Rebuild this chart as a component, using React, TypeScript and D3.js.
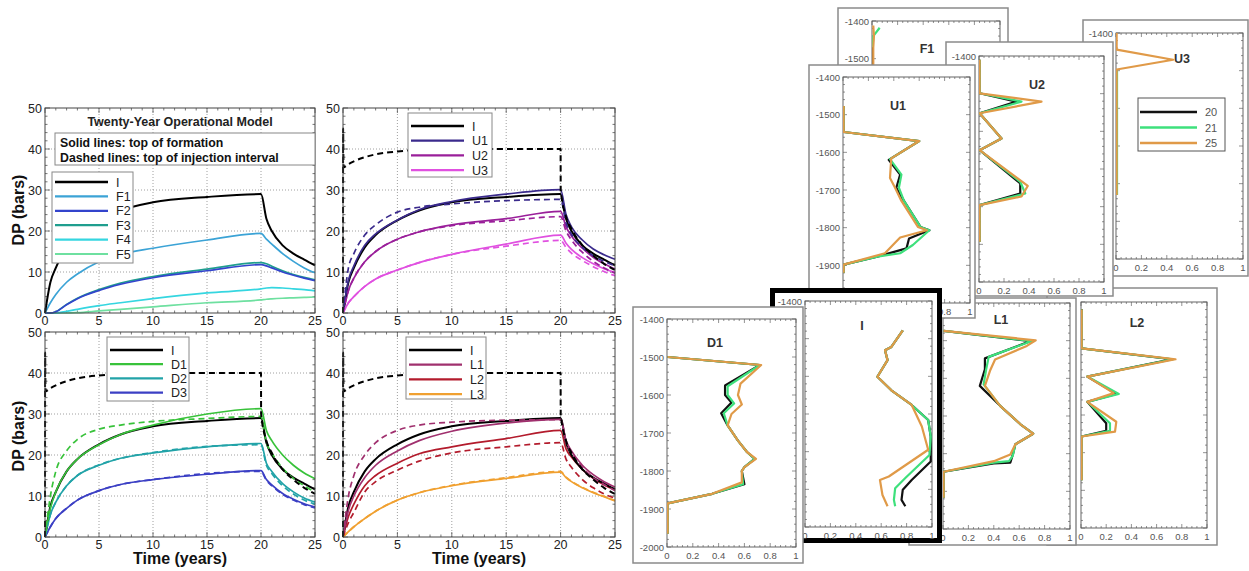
import React from 'react';
import * as d3 from 'd3';

// ---------------- time-series data (DP in bars) ----------------
const T = [0, 0.5, 1, 2, 3, 5, 7, 10, 15, 20, 20.5, 21, 22, 23, 24, 25];
const T_I_DASH = [0, 0.01, 0.05, 0.5, 1, 2, 3, 5, 7, 10, 15, 20, 20.01, 20.5, 21, 22, 23, 24, 25];
const I_DASHED = [0, 45, 35.5, 36.3, 37, 38, 38.7, 39.4, 39.8, 40, 40, 40, 30, 23.5, 20.5, 16.5, 14, 12, 10.5];

const I_SOLID = [0, 7.5, 11, 16, 19, 22.6, 25, 27, 28.3, 29, 23, 20, 16.5, 14.5, 13, 11.6];

const F1 = [0, 2.5, 4.5, 7.5, 9.5, 12.5, 14.3, 15.8, 17.8, 19.4, 18, 16.8, 14.5, 12.6, 11, 9.8];
const F2 = [0, 0, 0.3, 2, 3.5, 5.5, 7, 8.6, 10.3, 11.8, 11.5, 11, 10, 9.2, 8.5, 7.9];
const F3 = [0, 0, 0.3, 2.1, 3.6, 5.7, 7.3, 8.9, 10.7, 12.3, 12, 11.4, 10.3, 9.4, 8.7, 8.1];
const F4 = [0, 0, 0, 0.4, 0.9, 1.8, 2.5, 3.5, 4.9, 5.9, 6.1, 6.2, 6.1, 5.9, 5.7, 5.4];
const F5 = [0, 0, 0, 0, 0.1, 0.5, 0.9, 1.5, 2.5, 3.2, 3.35, 3.45, 3.6, 3.7, 3.8, 3.9];

const U1 = [0, 8, 11.5, 16.5, 19.3, 22.7, 25.2, 27.2, 29, 30.1, 24, 21, 17.8, 15.6, 14.2, 13.1];
const U1_D = [0, 11, 14.5, 19, 21.5, 24.6, 25.8, 26.6, 27.4, 27.7, 22, 19.2, 16, 14, 12.6, 11.5];
const U2 = [0, 5.5, 8.5, 12.5, 15, 18, 19.8, 21.5, 23, 24.8, 21, 18.8, 15.8, 13.6, 12, 10.7];
const U2_D = [0, 5.5, 8.5, 12.5, 15, 18, 19.8, 21.3, 22.5, 23.5, 20, 17.8, 14.8, 12.6, 11, 9.7];
const U3 = [0, 2.5, 4, 6.5, 8.3, 10.5, 12.3, 14.3, 16.8, 19, 17, 15.5, 13.5, 12, 10.8, 9.9];
const U3_D = [0, 2.5, 4, 6.5, 8.3, 10.5, 12.3, 14.3, 16.3, 17.7, 16, 14.6, 12.8, 11.3, 10.1, 9.1];

const D1 = [0, 7, 11, 16, 19, 22.5, 25, 27.3, 30, 31.3, 26, 23.5, 20, 17.5, 15.6, 14.2];
const D1_D = [0, 10, 16, 21, 23.8, 26.3, 27.3, 28.2, 28.9, 29.4, 23, 20.5, 16.8, 14.3, 12.5, 11];
const D2 = [0, 5.5, 8.5, 12.5, 15, 17.5, 19.2, 20.5, 22, 22.8, 18, 16, 13, 11, 9.5, 8.5];
const D2_D = [0, 5.5, 8.5, 12.5, 15, 17.6, 19.2, 20.6, 22.1, 22.5, 17.5, 15.5, 12.5, 10.5, 9, 8];
const D3 = [0, 2.5, 4.5, 7, 9, 11.3, 12.8, 14, 15.3, 16.2, 14, 12.7, 10.6, 9.2, 8.1, 7.3];
const D3_D = [0, 2.5, 4.5, 7, 9, 11.3, 12.8, 14, 15.5, 16, 13.8, 12.5, 10.4, 9, 7.9, 7.1];

const L1 = [0, 6.5, 10, 14.5, 17.5, 21, 23.5, 25.8, 27.8, 28.7, 23.5, 21, 17.5, 15.2, 13.5, 12.2];
const L1_D = [0, 10, 15, 20, 23, 26, 27.3, 28, 28.5, 28.6, 23, 20.5, 17, 14.5, 12.8, 11.3];
const L2 = [0, 5, 8, 12.5, 15, 18, 20.3, 22, 24, 26, 21.5, 19.5, 16.5, 14.3, 12.7, 11.5];
const L2_D = [0, 3.5, 6, 11, 13.5, 16.3, 18.5, 20.5, 22, 23, 19, 17, 14, 12, 10.5, 9.5];
const L3 = [0, 1.3, 2.5, 4.5, 6.3, 9, 10.8, 12.5, 14.3, 15.8, 14.5, 13.5, 12, 10.8, 9.8, 8.8];
const L3_D = [0, 1.3, 2.5, 4.5, 6.3, 9, 10.8, 12.6, 14.5, 16, 14.6, 13.6, 12.1, 10.9, 9.9, 8.9];

const X_TICKS = [0, 5, 10, 15, 20, 25];
const Y_TICKS = [0, 10, 20, 30, 40, 50];

// ---------------- depth-profile data ([value, depth]) ----------------
type P = [number, number];
const F1_20: P[] = [[0.005, -1450], [0.005, -1540]];
const F1_21: P[] = [[0.005, -1470], [0.01, -1440], [0.06, -1418]];
const F1_25: P[] = [[0.01, -1412], [0.015, -1440], [0.01, -1470], [0.01, -1540]];

const U3_20: P[] = [[0.005, -1500], [0.005, -1830]];
const U3_21: P[] = [[0.008, -1500], [0.008, -1830]];
const U3_25: P[] = [[0.005, -1400], [0.005, -1444], [0.45, -1471], [0.005, -1497], [0.005, -1830]];

const L2_20: P[] = [[0.005, -1420], [0.005, -1523], [0.72, -1552], [0.05, -1598], [0.28, -1644], [0.05, -1665], [0.2, -1722], [0.2, -1742], [0.005, -1757], [0.005, -1873]];
const L2_21: P[] = [[0.005, -1420], [0.005, -1523], [0.73, -1552], [0.05, -1598], [0.3, -1644], [0.05, -1665], [0.23, -1722], [0.23, -1742], [0.005, -1757], [0.005, -1873]];
const L2_25: P[] = [[0.005, -1420], [0.005, -1523], [0.75, -1552], [0.05, -1598], [0.26, -1642], [0.05, -1665], [0.28, -1718], [0.27, -1744], [0.005, -1757], [0.005, -1873]];

const L1_20: P[] = [[0.005, -1474], [0.69, -1501], [0.33, -1547], [0.33, -1576], [0.29, -1620], [0.45, -1673], [0.61, -1722], [0.71, -1747], [0.57, -1775], [0.55, -1802], [0.53, -1824], [0.4, -1826], [0.005, -1848], [0.005, -1917]];
const L1_21: P[] = [[0.005, -1474], [0.7, -1501], [0.36, -1543], [0.34, -1576], [0.32, -1616], [0.45, -1673], [0.61, -1722], [0.71, -1747], [0.57, -1775], [0.55, -1805], [0.52, -1820], [0.4, -1824], [0.005, -1848], [0.005, -1917]];
const L1_25: P[] = [[0.005, -1474], [0.73, -1499], [0.66, -1514], [0.41, -1550], [0.37, -1580], [0.33, -1620], [0.45, -1673], [0.61, -1722], [0.71, -1747], [0.57, -1775], [0.53, -1802], [0.4, -1820], [0.005, -1848], [0.005, -1917]];

const U2_20: P[] = [[0.005, -1410], [0.005, -1499], [0.3, -1521], [0.005, -1552], [0.18, -1619], [0.005, -1650], [0.33, -1738], [0.33, -1765], [0.005, -1796], [0.005, -1893]];
const U2_21: P[] = [[0.005, -1410], [0.005, -1499], [0.34, -1521], [0.005, -1552], [0.18, -1619], [0.005, -1650], [0.33, -1734], [0.37, -1765], [0.005, -1796], [0.005, -1893]];
const U2_25: P[] = [[0.005, -1410], [0.005, -1499], [0.5, -1521], [0.005, -1552], [0.18, -1619], [0.005, -1650], [0.39, -1745], [0.34, -1773], [0.005, -1796], [0.005, -1893]];

const U1_20: P[] = [[0.005, -1477], [0.005, -1546], [0.6, -1570], [0.36, -1620], [0.45, -1659], [0.42, -1694], [0.48, -1729], [0.61, -1798], [0.68, -1807], [0.52, -1829], [0.5, -1855], [0.27, -1877], [0.005, -1898], [0.005, -1920]];
const U1_21: P[] = [[0.005, -1477], [0.005, -1546], [0.6, -1570], [0.37, -1618], [0.46, -1659], [0.44, -1694], [0.48, -1729], [0.61, -1798], [0.68, -1807], [0.55, -1846], [0.45, -1868], [0.27, -1877], [0.005, -1898], [0.005, -1920]];
const U1_25: P[] = [[0.005, -1477], [0.005, -1546], [0.6, -1570], [0.38, -1616], [0.37, -1668], [0.41, -1694], [0.46, -1729], [0.59, -1798], [0.66, -1807], [0.45, -1826], [0.33, -1868], [0.005, -1898], [0.005, -1920]];

const I_20: P[] = [[0.77, -1478], [0.68, -1522], [0.63, -1531], [0.65, -1557], [0.57, -1601], [0.68, -1637], [0.84, -1676], [0.97, -1716], [0.99, -1760], [0.99, -1826], [0.84, -1875], [0.77, -1901], [0.76, -1928], [0.79, -1945]];
const I_21: P[] = [[0.77, -1478], [0.68, -1522], [0.63, -1531], [0.65, -1557], [0.57, -1601], [0.68, -1637], [0.84, -1676], [0.97, -1716], [0.99, -1760], [0.98, -1809], [0.79, -1870], [0.71, -1897], [0.7, -1928], [0.71, -1945]];
const I_25: P[] = [[0.77, -1478], [0.68, -1522], [0.63, -1531], [0.65, -1557], [0.57, -1601], [0.68, -1637], [0.84, -1676], [0.92, -1733], [0.97, -1795], [0.66, -1866], [0.59, -1875], [0.61, -1915], [0.65, -1945]];

const D1_20: P[] = [[0.005, -1500], [0.72, -1521], [0.45, -1575], [0.45, -1600], [0.5, -1620], [0.42, -1648], [0.47, -1680], [0.55, -1720], [0.62, -1750], [0.68, -1768], [0.6, -1790], [0.58, -1800], [0.6, -1835], [0.35, -1860], [0.005, -1885], [0.005, -1965]];
const D1_21: P[] = [[0.005, -1500], [0.72, -1521], [0.47, -1577], [0.47, -1600], [0.52, -1622], [0.44, -1648], [0.47, -1680], [0.55, -1720], [0.62, -1750], [0.68, -1768], [0.6, -1790], [0.58, -1800], [0.59, -1835], [0.35, -1860], [0.005, -1885], [0.005, -1965]];
const D1_25: P[] = [[0.005, -1500], [0.73, -1521], [0.57, -1570], [0.55, -1600], [0.58, -1625], [0.5, -1650], [0.47, -1680], [0.55, -1720], [0.62, -1750], [0.69, -1768], [0.6, -1790], [0.58, -1800], [0.58, -1830], [0.35, -1860], [0.005, -1885], [0.005, -1965]];

const DEPTH_TICKS = [-1400, -1500, -1600, -1700, -1800, -1900, -2000];
const SAT_TICKS = [0, 0.2, 0.4, 0.6, 0.8, 1];
const YEARS = ['20', '21', '25'];

// ---------------- styling ----------------
const FONT = "Arial, 'Liberation Sans', Helvetica, sans-serif";
const C = {
  I: '#000000', F1: '#3ba3d6', F2: '#3344cc', F3: '#1f9e8e', F4: '#35d6e0', F5: '#6ee0a0',
  U1: '#3a2a8c', U2: '#9a1f9a', U3: '#e050e0', D1: '#38c23a', D2: '#22a3a8', D3: '#3b3fc4',
  L1: '#a0306e', L2: '#b31b2c', L3: '#f0a030',
};
const YEAR_COLORS = ['#111111', '#3ee07c', '#e09a48'];

type Ser = { name: string; v: number[]; color: string; dashed?: boolean; t?: number[]; w?: number };

const TIME_PANELS = [
  {
    key: 'TL', x0: 45, x1: 315, y0: 108, y1: 313,
    series: [
      { name: 'F5', v: F5, color: C.F5 }, { name: 'F4', v: F4, color: C.F4 },
      { name: 'F3', v: F3, color: C.F3 }, { name: 'F2', v: F2, color: C.F2 },
      { name: 'F1', v: F1, color: C.F1 }, { name: 'I', v: I_SOLID, color: C.I, w: 2 },
    ] as Ser[],
    legend: { x: 52, y: 172, w: 81, h: 91, first: 10, step: 14.4, items: ['I', 'F1', 'F2', 'F3', 'F4', 'F5'] },
  },
  {
    key: 'TR', x0: 343, x1: 615, y0: 108, y1: 313,
    series: [
      { name: 'U3', v: U3, color: C.U3 }, { name: 'U2', v: U2, color: C.U2 },
      { name: 'I', v: I_SOLID, color: C.I, w: 2 }, { name: 'U1', v: U1, color: C.U1 },
      { name: 'U3d', v: U3_D, color: C.U3, dashed: true }, { name: 'U2d', v: U2_D, color: C.U2, dashed: true },
      { name: 'U1d', v: U1_D, color: C.U1, dashed: true },
      { name: 'Id', v: I_DASHED, t: T_I_DASH, color: C.I, dashed: true, w: 2 },
    ] as Ser[],
    legend: { x: 408, y: 113, w: 84, h: 64, first: 13, step: 14.7, items: ['I', 'U1', 'U2', 'U3'] },
  },
  {
    key: 'BL', x0: 45, x1: 315, y0: 332, y1: 537,
    series: [
      { name: 'D3', v: D3, color: C.D3 }, { name: 'D2', v: D2, color: C.D2 },
      { name: 'I', v: I_SOLID, color: C.I, w: 2 }, { name: 'D1', v: D1, color: C.D1 },
      { name: 'D3d', v: D3_D, color: C.D3, dashed: true }, { name: 'D2d', v: D2_D, color: C.D2, dashed: true },
      { name: 'D1d', v: D1_D, color: C.D1, dashed: true },
      { name: 'Id', v: I_DASHED, t: T_I_DASH, color: C.I, dashed: true, w: 2 },
    ] as Ser[],
    legend: { x: 107, y: 337, w: 82, h: 64, first: 13, step: 14.2, items: ['I', 'D1', 'D2', 'D3'] },
  },
  {
    key: 'BR', x0: 343, x1: 615, y0: 332, y1: 537,
    series: [
      { name: 'L3', v: L3, color: C.L3 }, { name: 'L2', v: L2, color: C.L2 },
      { name: 'I', v: I_SOLID, color: C.I, w: 2 }, { name: 'L1', v: L1, color: C.L1 },
      { name: 'L3d', v: L3_D, color: C.L3, dashed: true }, { name: 'L2d', v: L2_D, color: C.L2, dashed: true },
      { name: 'L1d', v: L1_D, color: C.L1, dashed: true },
      { name: 'Id', v: I_DASHED, t: T_I_DASH, color: C.I, dashed: true, w: 2 },
    ] as Ser[],
    legend: { x: 406, y: 337, w: 80, h: 62, first: 13, step: 14.7, items: ['I', 'L1', 'L2', 'L3'] },
  },
];

function TimePanel({ cfg }: { cfg: any }) {
  const x = d3.scaleLinear().domain([0, 25]).range([cfg.x0, cfg.x1]);
  const y = d3.scaleLinear().domain([0, 50]).range([cfg.y1, cfg.y0]);
  const minorX = d3.range(0, 26, 1);
  const minorY = d3.range(0, 51, 2);
  const clipId = `clip-${cfg.key}`;
  const colorOf = (n: string) => (C as any)[n];
  const lg = cfg.legend;
  return (
    <g>
      <defs>
        <clipPath id={clipId}>
          <rect x={cfg.x0 - 1} y={cfg.y0} width={cfg.x1 - cfg.x0 + 2} height={cfg.y1 - cfg.y0 + 1} />
        </clipPath>
      </defs>
      {[5, 10, 15, 20].map((v) => (
        <line key={'gx' + v} x1={x(v)} x2={x(v)} y1={cfg.y0} y2={cfg.y1} stroke="#888" strokeWidth={0.8} strokeDasharray="1,2" />
      ))}
      {[10, 20, 30, 40].map((v) => (
        <line key={'gy' + v} x1={cfg.x0} x2={cfg.x1} y1={y(v)} y2={y(v)} stroke="#888" strokeWidth={0.8} strokeDasharray="1,2" />
      ))}
      {minorX.map((v) => {
        const len = v % 5 === 0 ? 5 : 2.5;
        return (
          <g key={'tx' + v} stroke="#555" strokeWidth={0.8}>
            <line x1={x(v)} x2={x(v)} y1={cfg.y1} y2={cfg.y1 - len} />
            <line x1={x(v)} x2={x(v)} y1={cfg.y0} y2={cfg.y0 + len} />
          </g>
        );
      })}
      {minorY.map((v) => {
        const len = v % 10 === 0 ? 5 : 2.5;
        return (
          <g key={'ty' + v} stroke="#555" strokeWidth={0.8}>
            <line x1={cfg.x0} x2={cfg.x0 + len} y1={y(v)} y2={y(v)} />
            <line x1={cfg.x1} x2={cfg.x1 - len} y1={y(v)} y2={y(v)} />
          </g>
        );
      })}
      <g clipPath={`url(#${clipId})`}>
        {cfg.series.map((s: Ser) => {
          const ts = s.t || T;
          const gen = d3.line<number>().x((_, i) => x(ts[i])).y((v) => y(v)).curve(d3.curveMonotoneX);
          return (
            <path key={s.name} d={gen(s.v) || ''} fill="none" stroke={s.color} strokeWidth={s.w || 1.7}
              strokeDasharray={s.dashed ? '6,4' : undefined} strokeLinejoin="round" />
          );
        })}
      </g>
      <rect x={cfg.x0} y={cfg.y0} width={cfg.x1 - cfg.x0} height={cfg.y1 - cfg.y0} fill="none" stroke="#444" strokeWidth={1} />
      {Y_TICKS.map((v) => (
        <text key={'yl' + v} x={cfg.x0 - 3} y={y(v) + 4.5} textAnchor="end" fontSize={12.5} fill="#222">{v}</text>
      ))}
      {X_TICKS.map((v) => (
        <text key={'xl' + v} x={x(v)} y={cfg.y1 + 12} textAnchor="middle" fontSize={12.5} fill="#222">{v}</text>
      ))}
      <rect x={lg.x} y={lg.y} width={lg.w} height={lg.h} fill="#fff" stroke="#888" strokeWidth={1} />
      {lg.items.map((n: string, i: number) => {
        const yy = lg.y + lg.first + i * lg.step;
        return (
          <g key={'lg' + n}>
            <line x1={lg.x + 3} x2={lg.x + 56} y1={yy} y2={yy} stroke={colorOf(n)} strokeWidth={n === 'I' ? 2.6 : 2.2} />
            <text x={lg.x + 64} y={yy + 4.5} fontSize={12.5} fill="#222">{n}</text>
          </g>
        );
      })}
    </g>
  );
}

// ---------------- profile panels (drawn bottom to top) ----------------
const PROFILE_PANELS = [
  { name: 'F1', l: 872, t: 21, r: 1000, b: 247, f: [838, 8, 1008, 250], s: [F1_20, F1_21, F1_25], tx: 927, ty: 53, yShow: [-1400, -1500], xShow: [] },
  { name: 'U3', l: 1116, t: 33, r: 1243, b: 259, f: [1083, 20, 1248, 276], s: [U3_20, U3_21, U3_25], tx: 1182, ty: 63, yShow: [-1400], xShow: SAT_TICKS },
  { name: 'L2', l: 1081, t: 302, r: 1207, b: 528, f: [1047, 288, 1217, 545], s: [L2_20, L2_21, L2_25], tx: 1137, ty: 327, yShow: [], xShow: SAT_TICKS },
  { name: 'L1', l: 943, t: 303, r: 1070, b: 529, f: [909, 298, 1076, 545], s: [L1_20, L1_21, L1_25], tx: 1001, ty: 324, yShow: [], xShow: SAT_TICKS },
  { name: 'U2', l: 979, t: 56, r: 1104, b: 282, f: [946, 42, 1113, 296], s: [U2_20, U2_21, U2_25], tx: 1037, ty: 89, yShow: [-1400], xShow: SAT_TICKS },
  { name: 'U1', l: 843, t: 77, r: 970, b: 303, f: [809, 65, 975, 318], s: [U1_20, U1_21, U1_25], tx: 898, ty: 110, yShow: [-1400, -1500, -1600, -1700, -1800, -1900], xShow: [0.8, 1] },
  { name: 'I', l: 805, t: 301, r: 932, b: 527, f: [770, 288, 942, 543], s: [I_20, I_21, I_25], tx: 862, ty: 330, thick: true, yShow: [-1400], xShow: SAT_TICKS },
  { name: 'D1', l: 667, t: 319, r: 796, b: 547, f: [633, 307, 803, 563], s: [D1_20, D1_21, D1_25], tx: 715, ty: 347, yShow: DEPTH_TICKS, xShow: SAT_TICKS },
];

function ProfilePanel({ p }: { p: any }) {
  const x = d3.scaleLinear().domain([0, 1]).range([p.l, p.r]);
  const y = d3.scaleLinear().domain([-1400, -2000]).range([p.t, p.b]);
  const gen = d3.line<P>().x((d) => x(d[0])).y((d) => y(d[1]));
  const [fx0, fy0, fx1, fy1] = p.f;
  const clipId = `pclip-${p.name}`;
  const minorX = d3.range(0, 1.0001, 0.04);
  const minorY = d3.range(-1400, -2000.1, -20);
  return (
    <g>
      <defs>
        <clipPath id={clipId}>
          <rect x={p.l} y={p.t} width={p.r - p.l} height={p.b - p.t} />
        </clipPath>
      </defs>
      {p.thick ? (
        <rect x={fx0 + 2.5} y={fy0 + 2.5} width={fx1 - fx0 - 5} height={fy1 - fy0 - 5} fill="#fff" stroke="#000" strokeWidth={5} />
      ) : (
        <rect x={fx0} y={fy0} width={fx1 - fx0} height={fy1 - fy0} fill="#fff" stroke="#8a8a8a" strokeWidth={1.5} />
      )}
      {minorX.map((v, i) => {
        const len = i % 5 === 0 ? 4 : 2;
        return (
          <g key={'px' + i} stroke="#666" strokeWidth={0.7}>
            <line x1={x(v)} x2={x(v)} y1={p.t} y2={p.t + len} />
            <line x1={x(v)} x2={x(v)} y1={p.b} y2={p.b - len} />
          </g>
        );
      })}
      {minorY.map((v, i) => {
        const len = i % 5 === 0 ? 4 : 2;
        return (
          <g key={'py' + i} stroke="#666" strokeWidth={0.7}>
            <line x1={p.l} x2={p.l + len} y1={y(v)} y2={y(v)} />
            <line x1={p.r} x2={p.r - len} y1={y(v)} y2={y(v)} />
          </g>
        );
      })}
      <rect x={p.l} y={p.t} width={p.r - p.l} height={p.b - p.t} fill="none" stroke="#555" strokeWidth={0.9} />
      {p.yShow.map((v: number) => (
        <text key={'dl' + v} x={p.l - 3} y={y(v) + 3.5} textAnchor="end" fontSize={9.5} fill="#555">{v}</text>
      ))}
      {p.xShow.map((v: number) => (
        <text key={'sl' + v} x={x(v)} y={p.b + 12} textAnchor="middle" fontSize={9.5} fill="#555">{v}</text>
      ))}
      <g clipPath={`url(#${clipId})`}>
        {p.s.map((pts: P[], i: number) => (
          <path key={i} d={gen(pts) || ''} fill="none" stroke={YEAR_COLORS[i]} strokeWidth={2.2} strokeLinejoin="round" />
        ))}
      </g>
      <text x={p.tx} y={p.ty} textAnchor="middle" fontSize={12.5} fontWeight="bold" fill="#333">{p.name}</text>
    </g>
  );
}

export default function App() {
  return (
    <svg width={1249} height={571} style={{ position: 'absolute', left: 0, top: 0, background: '#fff' }} fontFamily={FONT}>
      <rect x={0} y={0} width={1249} height={571} fill="#fff" />
      {TIME_PANELS.map((c) => <TimePanel key={c.key} cfg={c} />)}
      <text x={180} y={126} textAnchor="middle" fontSize={12.5} fontWeight="bold" fill="#222">Twenty-Year Operational Model</text>
      <rect x={55} y={133} width={260} height={32} fill="#fff" stroke="#888" strokeWidth={1} />
      <text x={60} y={147} fontSize={12.3} fontWeight="bold" fill="#111">Solid lines: top of formation</text>
      <text x={60} y={162} fontSize={12.3} fontWeight="bold" fill="#111">Dashed lines: top of injection interval</text>
      <text transform="translate(24,210) rotate(-90)" textAnchor="middle" fontSize={16} fontWeight="bold" fill="#111">DP (bars)</text>
      <text transform="translate(24,436) rotate(-90)" textAnchor="middle" fontSize={16} fontWeight="bold" fill="#111">DP (bars)</text>
      <text x={180} y={564} textAnchor="middle" fontSize={16} fontWeight="bold" fill="#111">Time (years)</text>
      <text x={479} y={564} textAnchor="middle" fontSize={16} fontWeight="bold" fill="#111">Time (years)</text>
      {PROFILE_PANELS.map((p) => <ProfilePanel key={p.name} p={p} />)}
      <rect x={1138} y={98} width={87} height={53} fill="#fff" stroke="#555" strokeWidth={1} />
      {YEARS.map((yr, i) => (
        <g key={yr}>
          <line x1={1140} x2={1197} y1={112 + i * 15.5} y2={112 + i * 15.5} stroke={YEAR_COLORS[i]} strokeWidth={2.4} />
          <text x={1205} y={116 + i * 15.5} fontSize={11} fill="#555">{yr}</text>
        </g>
      ))}
    </svg>
  );
}
